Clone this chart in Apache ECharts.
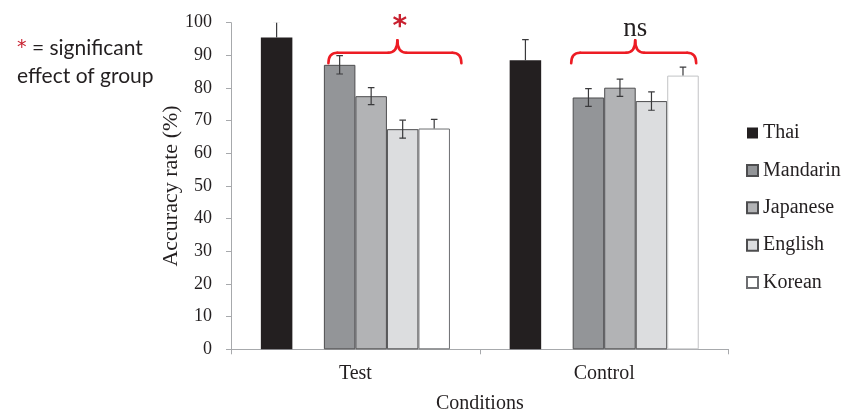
<!DOCTYPE html>
<html>
<head>
<meta charset="utf-8">
<script src="https://cdn.jsdelivr.net/npm/echarts@6/dist/echarts.min.js"></script>
<style>
html,body{margin:0;padding:0;background:#fff;}
#chart{width:846px;height:409px;}
</style>
</head>
<body>
<div id="chart"></div>
<script>
// ---- data ----
const categories = ['Test', 'Control'];
const seriesNames = ['Thai', 'Mandarin', 'Japanese', 'English', 'Korean'];
const thai = [95.5, 88.5];
const mandarin = [87.1, 77.1];
const japanese = [77.5, 80.1];
const english = [67.4, 76.0];
const korean = [67.6, 83.8];
const thaiErr = [4.8, 6.3];
const mandarinErr = [2.8, 2.7];
const japaneseErr = [2.6, 2.65];
const englishErr = [2.75, 2.8];
const koreanErr = [2.8, 2.6];
const yMin = 0, yMax = 100, yInterval = 10;
const groupLabels = ['*', 'ns'];

// ---- styling ----
const serif = 'Liberation Serif';
const gapPct = 24;
const slots = 6; // Thai, blank, Mandarin, Japanese, English, Korean
const colors = ['#231f20', '#939598', '#b2b3b5', '#dcdddf', '#ffffff'];
const borders = ['#231f20', '#4d4d4f', '#4d4d4f', '#4d4d4f', '#6d6e71'];
const values = [thai, mandarin, japanese, english, korean];
const errs = [thaiErr, mandarinErr, japaneseErr, englishErr, koreanErr];
const slotOf = [0, 2, 3, 4, 5];
const plusOnly = [true, false, false, false, true];

const series = [];
values.forEach((vals, i) => {
  series.push({
    name: seriesNames[i],
    type: 'bar',
    barGap: '0%',
    barCategoryGap: gapPct + '%',
    itemStyle: { color: colors[i], borderColor: borders[i], borderWidth: i === 0 ? 0 : 1 },
    data: vals.map((v, c) => (i === 4 && c === 1)
      ? { value: v, itemStyle: { borderColor: '#c2c3c5' } } : v),
    z: 2
  });
  if (i === 0) {
    series.push({ name: '_blank', type: 'bar', barGap: '0%', barCategoryGap: gapPct + '%', data: [null, null] });
  }
});

const errData = [];
values.forEach((vals, i) => {
  vals.forEach((v, c) => errData.push([c, v, errs[i][c], slotOf[i], plusOnly[i] ? 1 : 0]));
});

series.push({
  type: 'custom',
  name: '_err',
  clip: true,
  z: 5,
  data: errData,
  encode: { x: 0, y: 1 },
  renderItem: function (params, api) {
    const cat = api.value(0), v = api.value(1), e = api.value(2), slot = api.value(3), po = api.value(4);
    const band = api.size([1, 0])[0];
    const bw = band * (1 - gapPct / 100) / slots;
    const base = api.coord([cat, v]);
    const x = base[0] + (slot - (slots - 1) / 2) * bw;
    const yTop = api.coord([cat, v + e])[1];
    const yBot = po ? base[1] : api.coord([cat, v - e])[1];
    const cap = 3.3;
    const st = { stroke: '#3a3a3c', lineWidth: 1.2 };
    const children = [
      { type: 'line', shape: { x1: x, y1: yTop, x2: x, y2: yBot }, style: st },
      { type: 'line', shape: { x1: x - cap, y1: yTop, x2: x + cap, y2: yTop }, style: st }
    ];
    if (!po) children.push({ type: 'line', shape: { x1: x - cap, y1: yBot, x2: x + cap, y2: yBot }, style: st });
    return { type: 'group', children: children };
  }
});

const chart = echarts.init(document.getElementById('chart'));
const option = {
  animation: false,
  backgroundColor: '#ffffff',
  grid: { left: 231, top: 22.7, width: 497.6, height: 326.6, containLabel: false, outerBoundsMode: 'none' },
  legend: {
    data: seriesNames,
    orient: 'vertical',
    left: 746,
    top: 123,
    padding: 0,
    itemWidth: 11,
    itemHeight: 11,
    itemGap: 17.4,
    icon: 'rect',
    textStyle: { fontFamily: serif, fontSize: 20, color: '#231f20' }
  },
  xAxis: {
    type: 'category',
    data: categories,
    name: 'Conditions',
    nameLocation: 'middle',
    nameGap: 44,
    nameTextStyle: { fontFamily: serif, fontSize: 20, color: '#231f20' },
    axisLine: { lineStyle: { color: '#a7a9ac', width: 1 } },
    axisTick: { show: true, length: 5, lineStyle: { color: '#a7a9ac' } },
    axisLabel: { fontFamily: serif, fontSize: 20, color: '#231f20', margin: 14 }
  },
  yAxis: {
    type: 'value',
    min: yMin, max: yMax, interval: yInterval,
    name: 'Accuracy rate (%)',
    nameLocation: 'middle',
    nameGap: 49,
    nameMoveOverlap: false,
    nameTextStyle: { fontFamily: serif, fontSize: 22, color: '#231f20' },
    axisLine: { show: true, lineStyle: { color: '#a7a9ac', width: 1 } },
    axisTick: { show: true, length: 5, lineStyle: { color: '#a7a9ac' } },
    splitLine: { show: false },
    axisLabel: { fontFamily: serif, fontSize: 18, color: '#231f20', margin: 19 }
  },
  series: series
};
chart.setOption(option);

// ---- annotations (braces, asterisk, ns, left note) ----
function braceParts(x0, x1, xm, yEnd, yLine, yTip, style) {
  const r = 9;
  const q = (ax, ay, cx, cy, bx, by) => ({
    type: 'bezierCurve', shape: { x1: ax, y1: ay, cpx1: cx, cpy1: cy, x2: bx, y2: by }, style: style, z: 10
  });
  const l = (ax, ay, bx, by) => ({ type: 'line', shape: { x1: ax, y1: ay, x2: bx, y2: by }, style: style, z: 10 });
  return [
    q(x0, yEnd, x0, yLine, x0 + r, yLine),
    l(x0 + r, yLine, xm - r, yLine),
    q(xm - r, yLine, xm, yLine, xm, yTip),
    q(xm, yTip, xm, yLine, xm + r, yLine),
    l(xm + r, yLine, x1 - r, yLine),
    q(x1 - r, yLine, x1, yLine, x1, yEnd)
  ];
}
const braceSpec = [
  { l: -27, r: 106, m: 42 },
  { l: -33, r: 92, m: 31 }
];
const graphics = [];
const braceStyle = { fill: null, stroke: '#ed1c24', lineWidth: 2.6, lineCap: 'round' };
categories.forEach((c, i) => {
  const cx = chart.convertToPixel({ xAxisIndex: 0 }, c);
  const yLine = chart.convertToPixel({ yAxisIndex: 0 }, 90.8);
  const yEnd = chart.convertToPixel({ yAxisIndex: 0 }, 87.6);
  const yTip = chart.convertToPixel({ yAxisIndex: 0 }, 94.6);
  const s = braceSpec[i];
  braceParts(cx + s.l, cx + s.r, cx + s.m, yEnd, yLine, yTip, braceStyle).forEach(g => graphics.push(g));
  const isStar = groupLabels[i] === '*';
  graphics.push({
    type: 'text',
    x: cx + s.m + (isStar ? 2.5 : 0),
    y: isStar ? 28 : 29,
    style: {
      text: groupLabels[i],
      fill: isStar ? '#c8202f' : '#231f20',
      font: isStar ? 'bold 28px "DejaVu Sans"' : '27px "Liberation Serif"',
      textAlign: 'center',
      textVerticalAlign: 'middle'
    },
    z: 10
  });
});
graphics.push({
  type: 'text', left: 17, top: 34,
  style: {
    text: '{r|*} = significant\neffect of group',
    rich: { r: { fill: '#c8202f', font: '19px "DejaVu Sans"' } },
    font: '21px Lato',
    fill: '#231f20',
    lineHeight: 28
  }
});
chart.setOption({ graphic: graphics });
</script>
</body>
</html>
